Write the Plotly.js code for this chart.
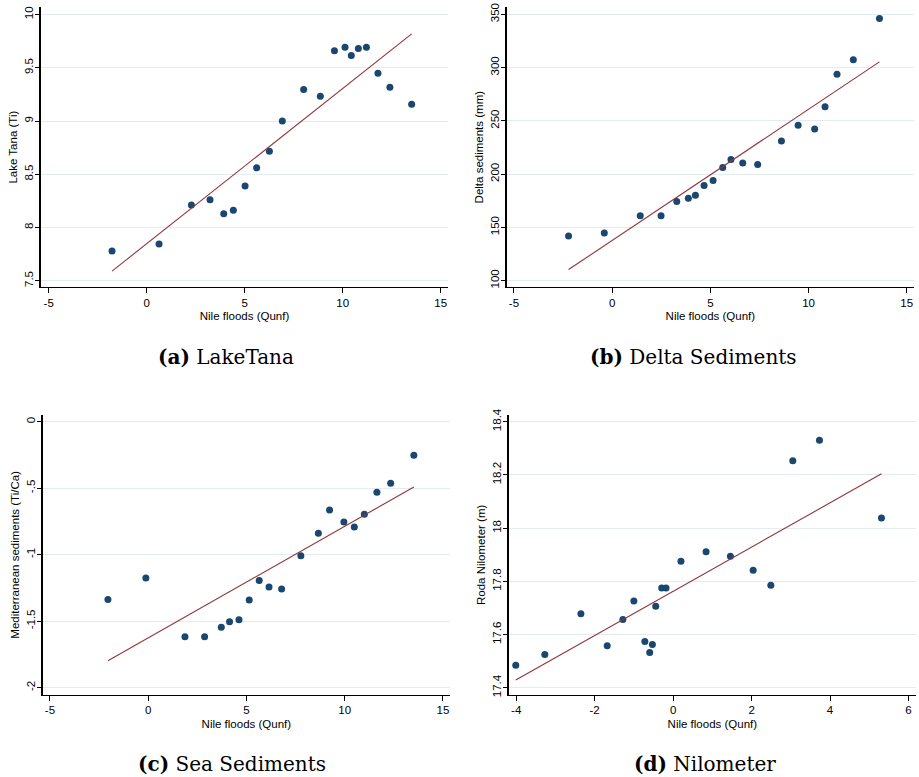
<!DOCTYPE html>
<html>
<head>
<meta charset="utf-8">
<script src="https://cdn.plot.ly/plotly-3.0.1.min.js"></script>
<style>html,body{margin:0;padding:0;background:#fff;}#chart{width:919px;height:777px;}</style>
</head>
<body>
<div id="chart"></div>
<script>
// ---- Data ----
const tanaX = [-1.77, 0.63, 2.28, 3.23, 3.93, 4.42, 5.02, 5.61, 6.26, 6.92, 8.01, 8.86, 9.58, 10.12, 10.44, 10.80, 11.21, 11.80, 12.41, 13.52];
const tanaY = [7.78, 7.844, 8.21, 8.26, 8.13, 8.163, 8.39, 8.56, 8.717, 9.0, 9.296, 9.233, 9.659, 9.693, 9.615, 9.681, 9.693, 9.449, 9.318, 9.158];

const deltaX = [-2.22, -0.40, 1.43, 2.49, 3.29, 3.88, 4.24, 4.68, 5.14, 5.63, 6.05, 6.65, 7.41, 8.62, 9.47, 10.31, 10.84, 11.45, 12.28, 13.61];
const deltaY = [141.9, 144.7, 161.0, 161.0, 174.2, 177.3, 180.1, 189.2, 193.9, 206.1, 213.6, 210.4, 208.9, 231.1, 245.8, 242.4, 263.3, 293.7, 307.4, 346.2];

const seaX = [-2.05, -0.12, 1.87, 2.87, 3.72, 4.14, 4.62, 5.14, 5.65, 6.15, 6.79, 7.77, 8.66, 9.23, 9.96, 10.49, 11.00, 11.64, 12.34, 13.52];
const seaY = [-1.338, -1.175, -1.617, -1.617, -1.546, -1.504, -1.489, -1.341, -1.195, -1.243, -1.258, -1.008, -0.840, -0.664, -0.754, -0.792, -0.697, -0.531, -0.464, -0.253];

const niloX = [-4.01, -3.27, -2.35, -1.68, -1.28, -1.00, -0.72, -0.596, -0.528, -0.443, -0.29, -0.18, 0.20, 0.84, 1.46, 2.04, 2.49, 3.05, 3.73, 5.31];
const niloY = [17.485, 17.525, 17.678, 17.558, 17.657, 17.726, 17.574, 17.533, 17.563, 17.706, 17.775, 17.775, 17.875, 17.911, 17.894, 17.842, 17.785, 18.253, 18.33, 18.038];

// tick labels
const xTicksWide = [-5, 0, 5, 10, 15];
const xTicksWideText = ["-5", "0", "5", "10", "15"];
const xTicksNilo = [-4, -2, 0, 2, 4, 6];
const xTicksNiloText = ["-4", "-2", "0", "2", "4", "6"];
const yTicksTana = [7.5, 8, 8.5, 9, 9.5, 10];
const yTicksTanaText = ["7.5", "8", "8.5", "9", "9.5", "10"];
const yTicksDelta = [100, 150, 200, 250, 300, 350];
const yTicksDeltaText = ["100", "150", "200", "250", "300", "350"];
const yTicksSea = [-2, -1.5, -1, -0.5, 0];
const yTicksSeaText = ["-2", "-1.5", "-1", "-.5", "0"];
const yTicksNilo = [17.4, 17.6, 17.8, 18, 18.2, 18.4];
const yTicksNiloText = ["17.4", "17.6", "17.8", "18", "18.2", "18.4"];

const xTitle = "Nile floods (Qunf)";
const yTitles = ["Lake Tana (Ti)", "Delta sediments (mm)", "Mediterranean sediments (Ti/Ca)", "Roda Nilometer (m)"];
const captionLetters = ["(a)", "(b)", "(c)", "(d)"];
const captionNames = ["LakeTana", "Delta Sediments", "Sea Sediments", "Nilometer"];

// ---- Styling ----
const NAVY = "#1a476f";
const MAROON = "#90353b";
const GRID = "#e3ecee";
const SANS = "Liberation Sans, Arial, sans-serif";

function olsLine(xs, ys) {
  const n = xs.length;
  const mx = xs.reduce((a, b) => a + b, 0) / n;
  const my = ys.reduce((a, b) => a + b, 0) / n;
  let sxy = 0, sxx = 0;
  for (let i = 0; i < n; i++) { sxy += (xs[i] - mx) * (ys[i] - my); sxx += (xs[i] - mx) ** 2; }
  const b = sxy / sxx, a = my - b * mx;
  const x0 = Math.min(...xs), x1 = Math.max(...xs);
  return { x: [x0, x1], y: [a + b * x0, a + b * x1] };
}

const sets = [[tanaX, tanaY], [deltaX, deltaY], [seaX, seaY], [niloX, niloY]];
const traces = [];
sets.forEach((s, i) => {
  const ax = i === 0 ? "" : String(i + 1);
  traces.push({
    x: s[0], y: s[1], type: "scatter", mode: "markers",
    marker: { color: NAVY, size: 7, line: { width: 0 } },
    xaxis: "x" + ax, yaxis: "y" + ax, hoverinfo: "skip", cliponaxis: false
  });
  const fit = olsLine(s[0], s[1]);
  traces.push({
    x: fit.x, y: fit.y, type: "scatter", mode: "lines",
    line: { color: MAROON, width: 1.1 },
    xaxis: "x" + ax, yaxis: "y" + ax, hoverinfo: "skip"
  });
});

function xAxis(domain, anchor, range, tv, tt) {
  return {
    domain: domain, anchor: anchor, range: range,
    tickmode: "array", tickvals: tv, ticktext: tt,
    showgrid: false, zeroline: false,
    showline: true, linecolor: "#000", linewidth: 1.3,
    ticks: "outside", ticklen: 4.5, tickwidth: 1, tickcolor: "#000",
    tickfont: { family: SANS, size: 11.5, color: "#000" },
    title: { text: xTitle, font: { family: SANS, size: 11.5, color: "#000" }, standoff: 4 },
    fixedrange: true, automargin: false
  };
}
function yAxis(domain, anchor, range, tv, tt, title) {
  return {
    domain: domain, anchor: anchor, range: range,
    tickmode: "array", tickvals: tv, ticktext: tt, tickangle: -90,
    ticklabelstandoff: -3,
    showgrid: true, gridcolor: GRID, gridwidth: 1, zeroline: false,
    showline: true, linecolor: "#000", linewidth: 1.3,
    ticks: "outside", ticklen: 4.5, tickwidth: 1, tickcolor: "#000",
    tickfont: { family: SANS, size: 11.5, color: "#000" },
    title: { text: title, font: { family: SANS, size: 11.5, color: "#000" }, standoff: 3 },
    fixedrange: true, automargin: false
  };
}

const W = 919, H = 777;
const dx = (a, b) => [a / W, b / W];
const dy = (top, bottom) => [1 - bottom / H, 1 - top / H];

const layout = {
  width: W, height: H,
  margin: { l: 0, r: 0, t: 0, b: 0 },
  paper_bgcolor: "#fff", plot_bgcolor: "#fff",
  showlegend: false,
  xaxis: xAxis(dx(40.7, 448.3), "y", [-5.41, 15.39], xTicksWide, xTicksWideText),
  yaxis: yAxis(dy(7.3, 287), "x", [7.441, 10.068], yTicksTana, yTicksTanaText, yTitles[0]),
  xaxis2: xAxis(dx(506.7, 914), "y2", [-5.37, 15.37], xTicksWide, xTicksWideText),
  yaxis2: yAxis(dy(7.3, 287), "x2", [94.0, 356.6], yTicksDelta, yTicksDeltaText, yTitles[1]),
  xaxis3: xAxis(dx(42.7, 450), "y3", [-5.37, 15.36], xTicksWide, xTicksWideText),
  yaxis3: yAxis(dy(415, 694.7), "x3", [-2.053, 0.05], yTicksSea, yTicksSeaText, yTitles[2]),
  xaxis4: xAxis(dx(508.7, 916), "y4", [-4.19, 6.19], xTicksNilo, xTicksNiloText),
  yaxis4: yAxis(dy(415, 694.7), "x4", [17.374, 18.425], yTicksNilo, yTicksNiloText, yTitles[3]),
  annotations: []
};

const capPos = [[226, 357], [693.5, 357], [232, 764], [705, 764]];
capPos.forEach((p, i) => {
  layout.annotations.push({
    xref: "paper", yref: "paper", x: p[0] / W, y: 1 - p[1] / H,
    xanchor: "center", yanchor: "middle", showarrow: false,
    text: "<b>" + captionLetters[i] + "</b> " + captionNames[i],
    font: { family: "DejaVu Serif, serif", size: 20, color: "#000" }
  });
});

Plotly.newPlot("chart", traces, layout, { staticPlot: true, displayModeBar: false });
</script>
</body>
</html>
